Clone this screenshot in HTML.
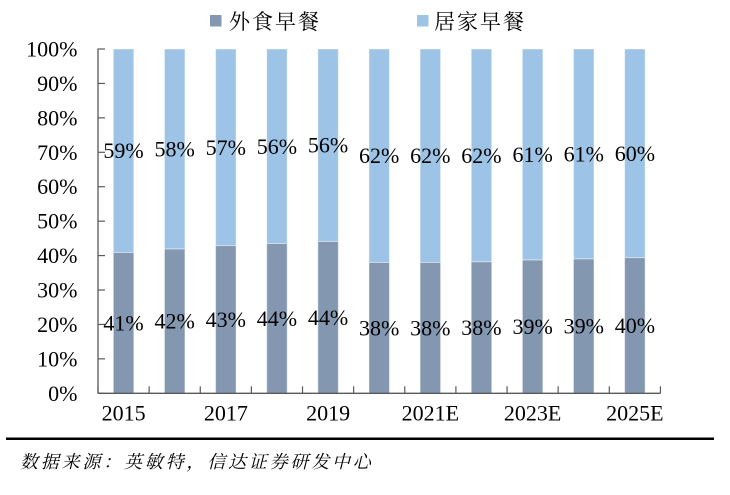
<!DOCTYPE html>
<html>
<head>
<meta charset="utf-8">
<style>
html,body{margin:0;padding:0;background:#fff;}
svg{display:block;}
.t{font-family:"Liberation Serif","Noto Serif CJK SC",serif;font-size:22px;fill:#000;}
.cn{font-family:"Liberation Serif","Noto Serif CJK SC",serif;font-size:21px;fill:#000;letter-spacing:2px;}
.src{font-family:"Liberation Serif","Noto Serif CJK SC",serif;font-size:18px;fill:#000;font-style:italic;letter-spacing:2.8px;}
</style>
</head>
<body>
<svg width="730" height="495" viewBox="0 0 730 495" xmlns="http://www.w3.org/2000/svg">
  <!-- legend -->
  <rect x="210" y="15" width="11.5" height="11.5" fill="#8497B0"/>
  <text class="cn" x="229" y="29">外食早餐</text>
  <rect x="417" y="15" width="11.5" height="11.5" fill="#9DC3E6"/>
  <text class="cn" x="434" y="29">居家早餐</text>

  <!-- bars -->
  <g id="bars" stroke="#ffffff" stroke-opacity="0.45" stroke-width="1"></g>

  <!-- axes -->
  <g stroke="#595959" stroke-width="1.3" fill="none">
    <line x1="98" y1="48.5" x2="98" y2="393.5"/>
    <line x1="98" y1="393.3" x2="660.5" y2="393.3"/>
  </g>
  <g id="ticks" stroke="#595959" stroke-width="1.2"></g>
  <g id="ylabels"></g>
  <g id="xlabels"></g>
  <g id="dlabels"></g>

  <!-- source -->
  <rect x="6" y="437.5" width="708" height="2.5" fill="#000"/>
  <text class="src" x="20" y="468">数据来源：英敏特，信达证券研发中心</text>
</svg>
<script>
(function(){
  var NS="http://www.w3.org/2000/svg";
  function el(n,a,t){var e=document.createElementNS(NS,n);for(var k in a)e.setAttribute(k,a[k]);if(t!==undefined)e.textContent=t;return e;}
  var y0=393.3, k=3.443, x0=98, cw=51.13, bw=20.5;
  function Y(v){return y0-v*k;}
  var dark=[40.9,41.9,42.9,43.5,44.1,38.0,38.0,38.2,38.7,39.0,39.4];
  var dl=["41%","42%","43%","44%","44%","38%","38%","38%","39%","39%","40%"];
  var ll=["59%","58%","57%","56%","56%","62%","62%","62%","61%","61%","60%"];
  var bars=document.getElementById("bars"),ticks=document.getElementById("ticks"),
      yl=document.getElementById("ylabels"),xl=document.getElementById("xlabels"),
      dlab=document.getElementById("dlabels");
  for(var i=0;i<11;i++){
    var cx=x0+cw*(i+0.5), bx=cx-bw/2;
    bars.appendChild(el("rect",{x:bx,y:Y(100),width:bw,height:Y(dark[i])-Y(100),fill:"#9DC3E6"}));
    bars.appendChild(el("rect",{x:bx,y:Y(dark[i]),width:bw,height:y0-Y(dark[i]),fill:"#8497B0"}));
    dlab.appendChild(el("text",{"class":"t",x:cx,y:(Y(dark[i])+Y(100))/2+7.5,"text-anchor":"middle"},ll[i]));
    dlab.appendChild(el("text",{"class":"t",x:cx,y:(Y(dark[i])+y0)/2+7.5,"text-anchor":"middle"},dl[i]));
  }
  for(var j=0;j<=11;j++){
    var tx=x0+cw*j;
    ticks.appendChild(el("line",{x1:tx,y1:y0,x2:tx,y2:y0-7}));
  }
  for(var v=0;v<=100;v+=10){
    var ty=Y(v);
    ticks.appendChild(el("line",{x1:x0,y1:ty,x2:x0+7,y2:ty}));
    yl.appendChild(el("text",{"class":"t",x:77.5,y:ty+7.5,"text-anchor":"end"},v+"%"));
  }
  var xs=["2015","2017","2019","2021E","2023E","2025E"];
  for(var m=0;m<6;m++){
    var cx2=x0+cw*(2*m+0.5);
    xl.appendChild(el("text",{"class":"t",x:cx2,y:420.5,"text-anchor":"middle"},xs[m]));
  }
})();
</script>
</body>
</html>
